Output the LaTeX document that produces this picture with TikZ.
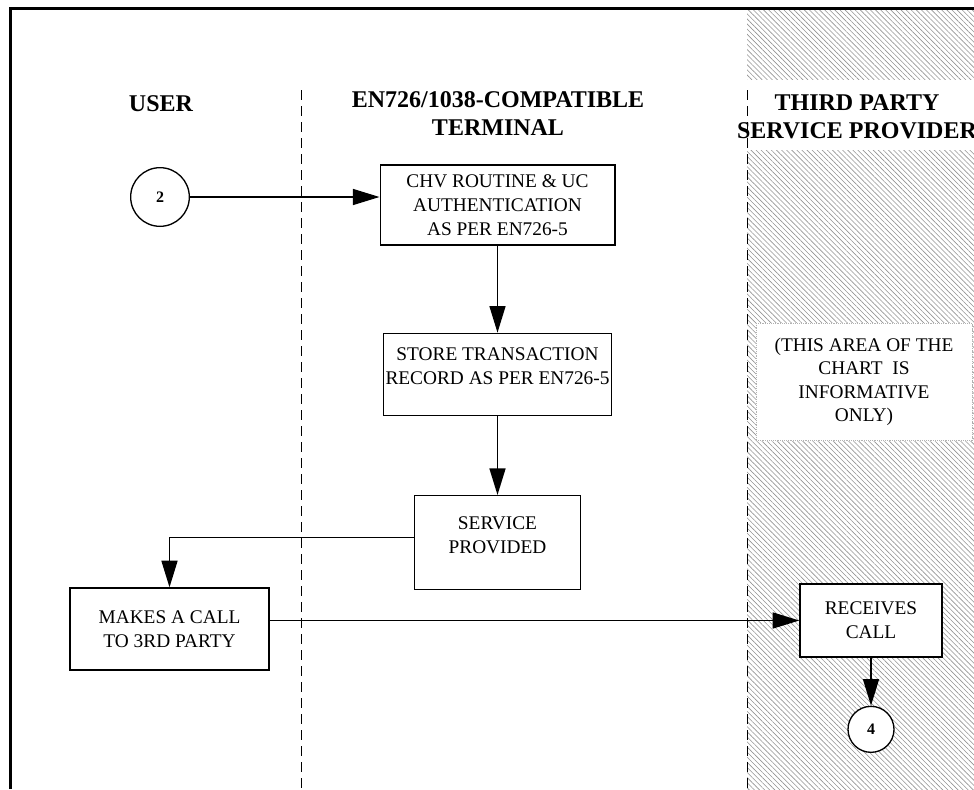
\documentclass[tikz,border=0pt]{standalone}
\usepackage{fontspec}
\setmainfont{Liberation Serif}
\usetikzlibrary{positioning,arrows.meta,patterns.meta}

\tikzset{
  box/.style={draw, fill=white, line width=1pt, align=center, inner sep=2pt,
    font=\fontsize{14.5}{18}\selectfont},
  conn/.style={line width=1.2pt, -{Triangle[length=20pt,width=12pt]}},
  pageref/.style={draw, circle, line width=1pt, fill=white,
    font=\fontsize{12}{14}\selectfont\bfseries},
  lane/.style={align=center, font=\fontsize{18}{21}\selectfont\bfseries},
  divider/.style={line width=0.75pt, dash pattern=on 7.5pt off 4.5pt},
}

\begin{document}
\begin{tikzpicture}[x=0.75pt,y=-0.75pt]
\useasboundingbox (0,0) rectangle (974,789);

% informative area
\fill[pattern={Lines[angle=-45,distance=2.7pt,line width=0.45pt]}, pattern color=gray!85]
  (747,10) rectangle (974,789);
\fill[white] (747,80) rectangle (974,150);
\node[fill=white, draw=gray!60, densely dotted, align=center,
  minimum width=162pt, minimum height=88pt,
  font=\fontsize{14.5}{17.5}\selectfont] (info) at (864,382)
  {(THIS AREA OF THE\\CHART\ \ IS\\INFORMATIVE\\ONLY)};

\draw[divider] (301,90) -- (301,789);
\draw[divider] (747,90) -- (747,789);
\draw[line width=2.25pt] (10,789) -- (10,8) -- (974,8);

\node[lane] (user) at (161,103.5) {USER};
\node[lane] (term) at (498,114) {EN726/1038-COMPATIBLE\\TERMINAL};
\node[lane] (third) at (857,117) {THIRD PARTY\\SERVICE PROVIDER};

\node[pageref, minimum size=44pt] (c2) at (160,197) {2};
\node[box, minimum width=176pt, minimum height=60pt] (chv) at (497.5,205)
  {CHV ROUTINE \& UC\\AUTHENTICATION\\AS PER EN726-5};
\node[box, minimum width=171pt, minimum height=61.5pt, inner xsep=0pt] (store) [below=65.25pt of chv]
  {STORE TRANSACTION\\RECORD AS PER EN726-5\\[-6pt]\mbox{}};
\node[box, minimum width=124.5pt, minimum height=70.5pt] (service) [below=59.25pt of store]
  {SERVICE\\PROVIDED\\[-6pt]\mbox{}};
\node[box, minimum width=149.25pt, minimum height=61.5pt] (call) at (169.5,629)
  {MAKES A CALL\\TO 3RD PARTY};
\node[box, minimum width=106.5pt, minimum height=54.75pt] (recv) at (871,620.5)
  {RECEIVES\\CALL};
\node[pageref, minimum size=34.5pt] (c4) [below=36pt of recv] {4};

\draw[conn] (c2.east) -- (c2.east -| chv.west);
\draw[conn] (chv) -- (store);
\draw[conn] (store) -- (service);
\draw[conn] ([yshift=3.75pt]service.west) -| (call.north);
\draw[conn] (call.east |- recv.west) -- (recv.west);
\draw[conn] (recv) -- (c4);
\end{tikzpicture}
\end{document}
